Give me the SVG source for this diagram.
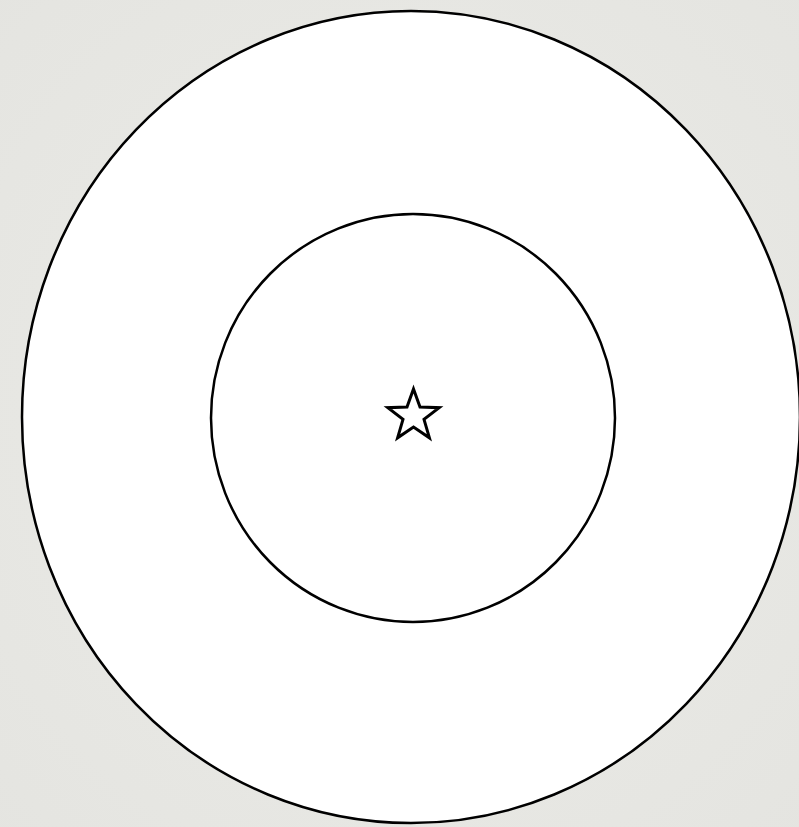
<svg xmlns="http://www.w3.org/2000/svg" width="799" height="827" viewBox="0 0 799 827">
<style>
.ring{fill:#ffffff;stroke:#000000;stroke-width:2.5}
.star{fill:#ffffff;stroke:#000000;stroke-width:3;stroke-linejoin:miter}
</style>
<defs>
<radialGradient id="bg" cx="50%" cy="50%" r="75%">
<stop offset="0" stop-color="#ececE8"/>
<stop offset="1" stop-color="#e4e4e0"/>
</radialGradient>
</defs>
<rect x="0" y="0" width="799" height="827" fill="url(#bg)"/>
<g id="outer"><ellipse class="ring" cx="411" cy="417" rx="389" ry="406"/></g>
<g id="inner"><ellipse class="ring" cx="413" cy="418" rx="202" ry="204"/></g>
<g id="star">
<polygon class="star" points="413.5,389 420,407.1 439.2,407.7 424,419.4 429.4,437.8 413.5,427 397.6,437.8 403,419.4 387.8,407.7 407,407.1"/>
</g>
</svg>
